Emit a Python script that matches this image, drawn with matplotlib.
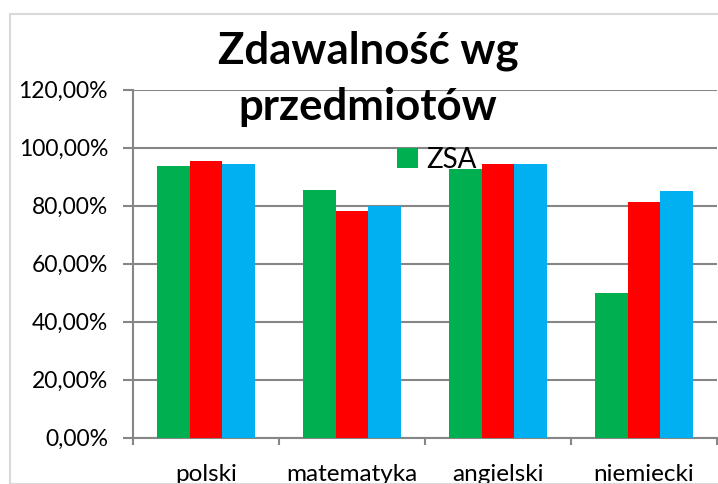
import numpy as np
import matplotlib.pyplot as plt
from matplotlib.patches import Rectangle
from matplotlib.ticker import FuncFormatter

# Values (fraction of students who passed)
subjects = ["polski", "matematyka", "angielski", "niemiecki"]
zsa = [93.6, 85.3, 92.6, 50.0]
series_red = [95.2, 78.0, 94.3, 81.1]
series_blue = [94.3, 80.0, 94.3, 85.1]

colors = ["#00B050", "#FF0000", "#00B0F0"]

plt.rcParams['font.family'] = ['Lato', 'DejaVu Sans']

fig = plt.figure(figsize=(7.18, 4.84), dpi=100)
ax = fig.add_axes([133 / 718, 46.5 / 484, 584 / 718, 348 / 484])

# light chart-area border
fig.patches.append(Rectangle((10 / 718, 0), 1.0, (484 - 14) / 484,
                             transform=fig.transFigure, fill=False,
                             edgecolor="#D9D9D9", linewidth=1.5))

x = np.arange(len(subjects))
w = 0.222
bars_g = ax.bar(x - w, zsa, w, color=colors[0], label="ZSA", zorder=3)
ax.bar(x, series_red, w, color=colors[1], zorder=3)
ax.bar(x + w, series_blue, w, color=colors[2], zorder=3)

ax.set_xlim(-0.5, len(subjects) - 0.5)
ax.set_ylim(0, 120)
ax.set_yticks(np.arange(0, 121, 20))
ax.yaxis.set_major_formatter(FuncFormatter(lambda v, p: f"{v:.2f}%".replace(".", ",")))
ax.set_xticks(x)
ax.set_xticklabels(subjects)
ax.set_xticks(np.arange(-0.5, len(subjects)), minor=True)
ax.tick_params(axis="x", which="major", length=0, pad=19, labelsize=17.5)
ax.tick_params(axis="x", which="minor", length=5, width=1.5, color="#868686")
ax.tick_params(axis="y", length=7, width=1.5, color="#868686", labelsize=16.5, pad=11)

ax.grid(axis="y", color="#868686", linewidth=1.5, zorder=0)
for side in ["top", "right"]:
    ax.spines[side].set_visible(False)
for side in ["left", "bottom"]:
    ax.spines[side].set_color("#868686")
    ax.spines[side].set_linewidth(1.5)

fig.text(368 / 718, 1 - 63 / 484, "Zdawalność wg", ha="center", va="baseline",
         fontsize=31.5, fontweight="bold")
fig.text(368 / 718, 1 - 120 / 484, "przedmiotów", ha="center", va="baseline",
         fontsize=31.5, fontweight="bold")

ax.legend(handles=[bars_g], loc="upper left", bbox_to_anchor=(383 / 718, 1 - 133 / 484),
          bbox_transform=fig.transFigure, frameon=False, fontsize=20,
          handlelength=0.75, handleheight=0.75, handletextpad=0.3, borderpad=0)

fig.savefig("out.png", dpi=100)
